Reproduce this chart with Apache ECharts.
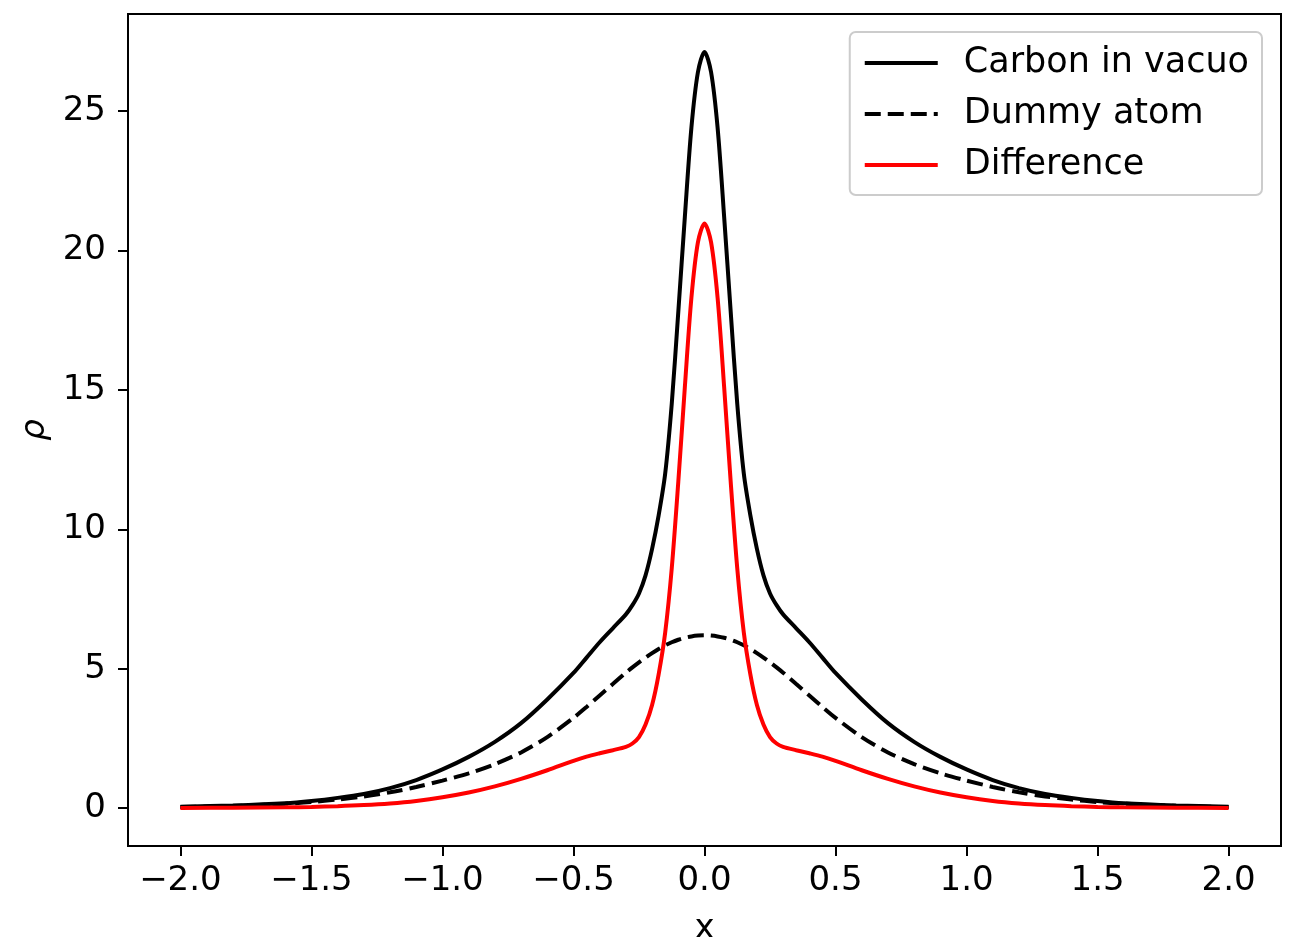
<!DOCTYPE html>
<html>
<head>
<meta charset="utf-8">
<script src="https://cdn.jsdelivr.net/npm/echarts@6/dist/echarts.min.js"></script>
<style>
  html, body { margin: 0; padding: 0; background: #fff; }
  #chart { width: 1293px; height: 937px; }
</style>
</head>
<body>
<div id="chart"></div>
<script>
// sample positions along x (denser near the core)
const xs = [
  -2.0, -1.8, -1.6, -1.5, -1.4, -1.3, -1.2, -1.1, -1.0, -0.9, -0.8, -0.7, -0.6,
  -0.5, -0.45, -0.4, -0.35, -0.3, -0.275, -0.25, -0.225, -0.2, -0.175, -0.15,
  -0.125, -0.1, -0.075, -0.05, -0.025, 0,
  0.025, 0.05, 0.075, 0.1, 0.125, 0.15, 0.175, 0.2, 0.225, 0.25, 0.275, 0.3,
  0.35, 0.4, 0.45, 0.5, 0.6, 0.7, 0.8, 0.9, 1.0, 1.1, 1.2, 1.3, 1.4, 1.5, 1.6,
  1.8, 2.0
]
// carbon in vacuo density
const carbon = [
  0.05, 0.1, 0.18, 0.26, 0.37, 0.51, 0.72, 1.01, 1.39, 1.84, 2.38, 3.05, 3.9,
  4.85, 5.4, 5.95, 6.45, 6.95, 7.28, 7.7, 8.35, 9.3, 10.5, 12.0,
  14.5, 17.8, 21.2, 24.4, 26.4, 27.12,
  26.4, 24.4, 21.2, 17.8, 14.5, 12.0, 10.5, 9.3, 8.35, 7.7, 7.28, 6.95,
  6.45, 5.95, 5.4, 4.85, 3.9, 3.05, 2.38, 1.84, 1.39, 1.01, 0.72, 0.51, 0.37, 0.26, 0.18,
  0.1, 0.05
]
// dummy atom density
const dummy = [
  0.04, 0.08, 0.16, 0.22, 0.31, 0.42, 0.57, 0.76, 0.99, 1.25, 1.58, 2.0, 2.55,
  3.24, 3.63, 4.04, 4.45, 4.86, 5.05, 5.23, 5.4, 5.56, 5.71, 5.84,
  5.95, 6.04, 6.11, 6.16, 6.19, 6.2,
  6.19, 6.16, 6.11, 6.04, 5.95, 5.84, 5.71, 5.56, 5.4, 5.23, 5.05, 4.86,
  4.45, 4.04, 3.63, 3.24, 2.55, 2.0, 1.58, 1.25, 0.99, 0.76, 0.57, 0.42, 0.31, 0.22, 0.16,
  0.08, 0.04
]
// difference
const diff = [
  0.01, 0.015, 0.03, 0.045, 0.07, 0.11, 0.17, 0.26, 0.39, 0.56, 0.78, 1.05, 1.36,
  1.7, 1.85, 1.97, 2.08, 2.2, 2.32, 2.55, 3.0, 3.7, 4.8, 6.3,
  8.6, 11.7, 15.1, 18.3, 20.3, 20.97,
  20.3, 18.3, 15.1, 11.7, 8.6, 6.3, 4.8, 3.7, 3.0, 2.55, 2.32, 2.2,
  2.08, 1.97, 1.85, 1.7, 1.36, 1.05, 0.78, 0.56, 0.39, 0.26, 0.17, 0.11, 0.07, 0.045, 0.03,
  0.015, 0.01
]
const xTicks = [-2.0, -1.5, -1.0, -0.5, 0.0, 0.5, 1.0, 1.5, 2.0]
const yTicks = [0, 5, 10, 15, 20, 25]

const FONT = 'DejaVu Sans'
const FS = 34

const pairs = (ys) => xs.map((x, i) => [x, ys[i]])
const fmt = (v, d) => (v < 0 ? '\u2212' : '') + Math.abs(v).toFixed(d)

const chart = echarts.init(document.getElementById('chart'), null, { renderer: 'canvas' })
const option = {
  backgroundColor: '#fff',
  animation: false,
  textStyle: { fontFamily: FONT },
  grid: {
    left: 128,
    right: 12,
    top: 14,
    bottom: 91,
    outerBoundsMode: 'none',
    containLabel: false,
    show: true,
    borderColor: '#000',
    borderWidth: 2,
    backgroundColor: 'transparent'
  },
  legend: {
    orient: 'vertical',
    right: 31,
    top: 32,
    padding: [11, 13, 10, 13],
    itemWidth: 73,
    itemHeight: 14,
    itemGap: 11,
    backgroundColor: 'rgba(255,255,255,0.8)',
    borderColor: '#cccccc',
    borderWidth: 2,
    borderRadius: 6,
    itemStyle: { opacity: 0 },
    lineStyle: { width: 4 },
    textStyle: {
      fontFamily: FONT,
      fontSize: 35,
      color: '#000',
      lineHeight: 40,
      padding: [0, 0, 0, 21]
    },
    data: ['Carbon in vacuo', 'Dummy atom', 'Difference']
  },
  xAxis: {
    type: 'value',
    min: -2.2,
    max: 2.2,
    name: 'x',
    nameLocation: 'middle',
    nameGap: 66,
    nameTextStyle: { fontFamily: FONT, fontSize: FS, color: '#000' },
    splitLine: { show: false },
    axisLine: { show: true, onZero: false, lineStyle: { color: '#000', width: 2 } },
    axisTick: {
      show: true,
      length: 10,
      inside: false,
      lineStyle: { color: '#000', width: 2 },
      customValues: xTicks
    },
    axisLabel: {
      fontFamily: FONT,
      fontSize: FS,
      color: '#000',
      margin: 18,
      customValues: xTicks,
      formatter: (v) => fmt(v, 1)
    }
  },
  yAxis: {
    type: 'value',
    min: -1.356,
    max: 28.48,
    name: 'ρ',
    nameLocation: 'middle',
    nameGap: 74,
    nameRotate: 90,
    nameTextStyle: { fontFamily: FONT, fontSize: FS, fontStyle: 'italic', color: '#000' },
    splitLine: { show: false },
    axisLine: { show: true, onZero: false, lineStyle: { color: '#000', width: 2 } },
    axisTick: {
      show: true,
      length: 10,
      inside: false,
      lineStyle: { color: '#000', width: 2 },
      customValues: yTicks
    },
    axisLabel: {
      fontFamily: FONT,
      fontSize: FS,
      color: '#000',
      margin: 22,
      customValues: yTicks,
      formatter: (v) => fmt(v, 0)
    }
  },
  series: [
    {
      name: 'Carbon in vacuo',
      type: 'line',
      data: pairs(carbon),
      smooth: 0.3,
      symbol: 'none',
      lineStyle: { color: '#000', width: 4 },
      itemStyle: { color: '#000' }
    },
    {
      name: 'Dummy atom',
      type: 'line',
      data: pairs(dummy),
      smooth: 0.3,
      symbol: 'none',
      lineStyle: { color: '#000', width: 4, type: [16, 7] },
      itemStyle: { color: '#000' }
    },
    {
      name: 'Difference',
      type: 'line',
      data: pairs(diff),
      smooth: 0.3,
      symbol: 'none',
      lineStyle: { color: '#ff0000', width: 4 },
      itemStyle: { color: '#ff0000' }
    }
  ]
}
chart.setOption(option)
</script>
</body>
</html>
